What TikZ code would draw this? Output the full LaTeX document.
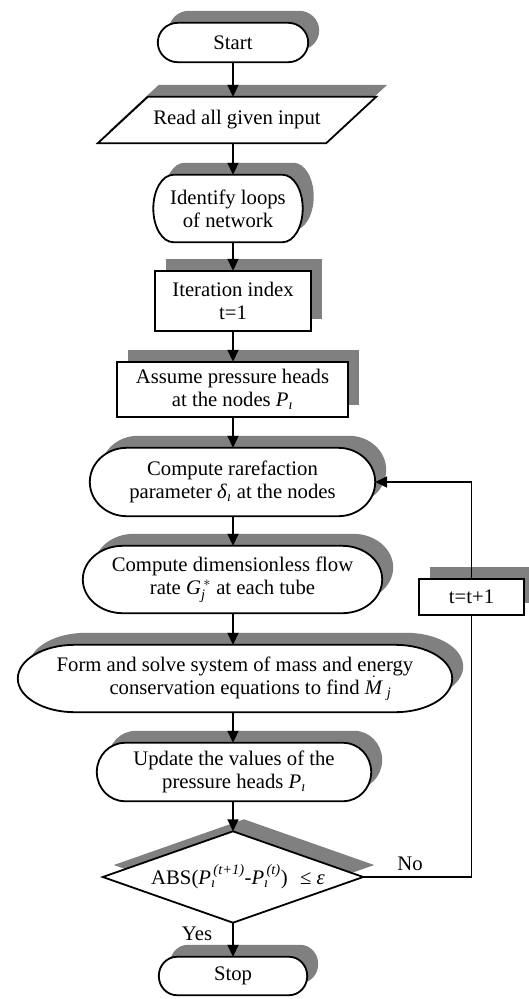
\documentclass[tikz,border=0pt]{standalone}
\usepackage{fontspec}
\usepackage{amsmath}
\setmainfont{Liberation Serif}
\usetikzlibrary{arrows.meta,calc}
\pgfdeclarelayer{background}
\pgfsetlayers{background,main}
\definecolor{shadowgray}{RGB}{128,128,128}
\newcommand\sdx{11pt}
\newcommand\sdy{12pt}
\tikzset{
  txt/.style={inner sep=0pt, align=center, font=\fontsize{20.7}{23}\selectfont},
  shad/.style={fill=shadowgray},
  box/.style={draw=black, fill=white, line width=1.8pt},
  arr/.style={line width=1.8pt, -{Triangle[length=12pt,width=11pt]}},
  ln/.style={line width=1.8pt},
}
% stadium with elliptic ends
\newcommand\stadshape[2]{%
  \begin{pgfonlayer}{background}
  \fill[shad] let \p1=(#1.north east), \p2=(#1.south west), \n1={(\y1-\y2)/2} in
    (\x2+#2+\sdx,\y1+\sdy) -- (\x1-#2+\sdx,\y1+\sdy)
    arc[start angle=90,end angle=-90,x radius=#2,y radius={\n1*1pt}]
    -- (\x2+#2+\sdx,\y2+\sdy)
    arc[start angle=270,end angle=90,x radius=#2,y radius={\n1*1pt}] -- cycle;
  \draw[box] let \p1=(#1.north east), \p2=(#1.south west), \n1={(\y1-\y2)/2} in
    (\x2+#2,\y1) -- (\x1-#2,\y1)
    arc[start angle=90,end angle=-90,x radius=#2,y radius={\n1*1pt}]
    -- (\x2+#2,\y2)
    arc[start angle=270,end angle=90,x radius=#2,y radius={\n1*1pt}] -- cycle;
  \end{pgfonlayer}}
\newcommand\rectshape[1]{%
  \begin{pgfonlayer}{background}
  \fill[shad] let \p1=(#1.north east), \p2=(#1.south west) in
    (\x2+\sdx,\y2+\sdy) rectangle (\x1+\sdx,\y1+\sdy);
  \draw[box] (#1.south west) rectangle (#1.north east);
  \end{pgfonlayer}}
\newcommand\parashape[2]{%
  \begin{pgfonlayer}{background}
  \fill[shad] let \p1=(#1.north east), \p2=(#1.south west) in
    (\x2+\sdx,\y2+\sdy) -- (\x1-#2+\sdx,\y2+\sdy) -- (\x1+\sdx,\y1+\sdy) -- (\x2+#2+\sdx,\y1+\sdy) -- cycle;
  \draw[box] let \p1=(#1.north east), \p2=(#1.south west) in
    (\x2,\y2) -- (\x1-#2,\y2) -- (\x1,\y1) -- (\x2+#2,\y1) -- cycle;
  \end{pgfonlayer}}
\newcommand\diamshape[1]{%
  \begin{pgfonlayer}{background}
  \fill[shad] let \p1=(#1.north), \p2=(#1.east), \p3=(#1.south), \p4=(#1.west) in
    (\x1+\sdx,\y1+\sdy) -- (\x2+\sdx,\y2+\sdy) -- (\x3+\sdx,\y3+\sdy) -- (\x4+\sdx,\y4+\sdy) -- cycle;
  \draw[box] (#1.north) -- (#1.east) -- (#1.south) -- (#1.west) -- cycle;
  \end{pgfonlayer}}
\begin{document}
\begin{tikzpicture}[x=1pt,y=-1pt]
\useasboundingbox (0,0) rectangle (529,999);
\coordinate (col) at (233,0);

\node[txt, minimum width=150pt, minimum height=39pt] (start) at (233,42.5) {Start};
\stadshape{start}{20pt}

\node[txt, minimum width=278pt, minimum height=46pt] (read) at (237,120) {Read all given input};
\parashape{read}{50pt}

\node[txt, minimum width=149pt, minimum height=67pt] (ident) at (228,208.5) {Identify loops\\of network};
\stadshape{ident}{20pt}

\node[txt, minimum width=156pt, minimum height=60pt] (iter) at (233,301) {Iteration index\\t=1};
\rectshape{iter}

\node[txt, minimum width=231pt, minimum height=55pt] (assume) at (232.5,389.5) {Assume pressure heads\\at the nodes \textit{P}$_{\textit{ı}}$};
\rectshape{assume}

\node[txt, minimum width=285pt, minimum height=68pt] (rare) at (232.5,482) {Compute rarefaction\\parameter \textit{δ}$_{\textit{ı}}$ at the nodes};
\stadshape{rare}{37pt}

\node[txt, minimum width=299pt, minimum height=67pt] (dimless) at (232.5,579.5) {Compute dimensionless flow\\rate \textit{G}$_{\textit{j}}^{\,*}$ at each tube};
\stadshape{dimless}{40pt}

\node[txt, minimum width=434pt, minimum height=67pt] (form) at (235,678.5) {Form and solve system of mass and energy\\\hspace*{1.5em}conservation equations to find $\dot{\text{\textit{M}}}_{\;\textit{j}}$};
\stadshape{form}{57pt}

\node[txt, minimum width=274pt, minimum height=58pt] (update) at (234,772) {Update the values of the\\pressure heads \textit{P}$_{\textit{ı}}$};
\stadshape{update}{28pt}

\node[txt, minimum width=260pt, minimum height=91pt] (diam) at (233,877) {\hspace*{10pt}ABS(\textit{P}$_{\textit{ı}}^{\,\textit{(t+1)}}$-\textit{P}$_{\textit{ı}}^{\,\textit{(t)}}$)\hspace{0.6em}≤ \textit{ε}};
\diamshape{diam}

\node[txt, minimum width=148pt, minimum height=38pt] (stop) at (233,976) {Stop};
\stadshape{stop}{18pt}

\node[txt, minimum width=105pt, minimum height=36pt] (tt) at (471.5,597) {t=t+1};
\rectshape{tt}

\node[txt] (yes) at (197,934) {Yes};
\node[txt] (no) at (410,864) {No};

\draw[arr] (col |- start.south) -- (col |- read.north);
\draw[arr] (col |- read.south) -- (col |- ident.north);
\draw[arr] (col |- ident.south) -- (col |- iter.north);
\draw[arr] (col |- iter.south) -- (col |- assume.north);
\draw[arr] (col |- assume.south) -- (col |- rare.north);
\draw[arr] (col |- rare.south) -- (col |- dimless.north);
\draw[arr] (col |- dimless.south) -- (col |- form.north);
\draw[arr] (col |- form.south) -- (col |- update.north);
\draw[arr] (col |- update.south) -- (diam.north);
\draw[arr] (diam.south) -- (col |- stop.north);
\draw[ln] (diam.east) -| (tt.south);
\draw[arr] (tt.north) |- (rare.east);
\end{tikzpicture}
\end{document}
